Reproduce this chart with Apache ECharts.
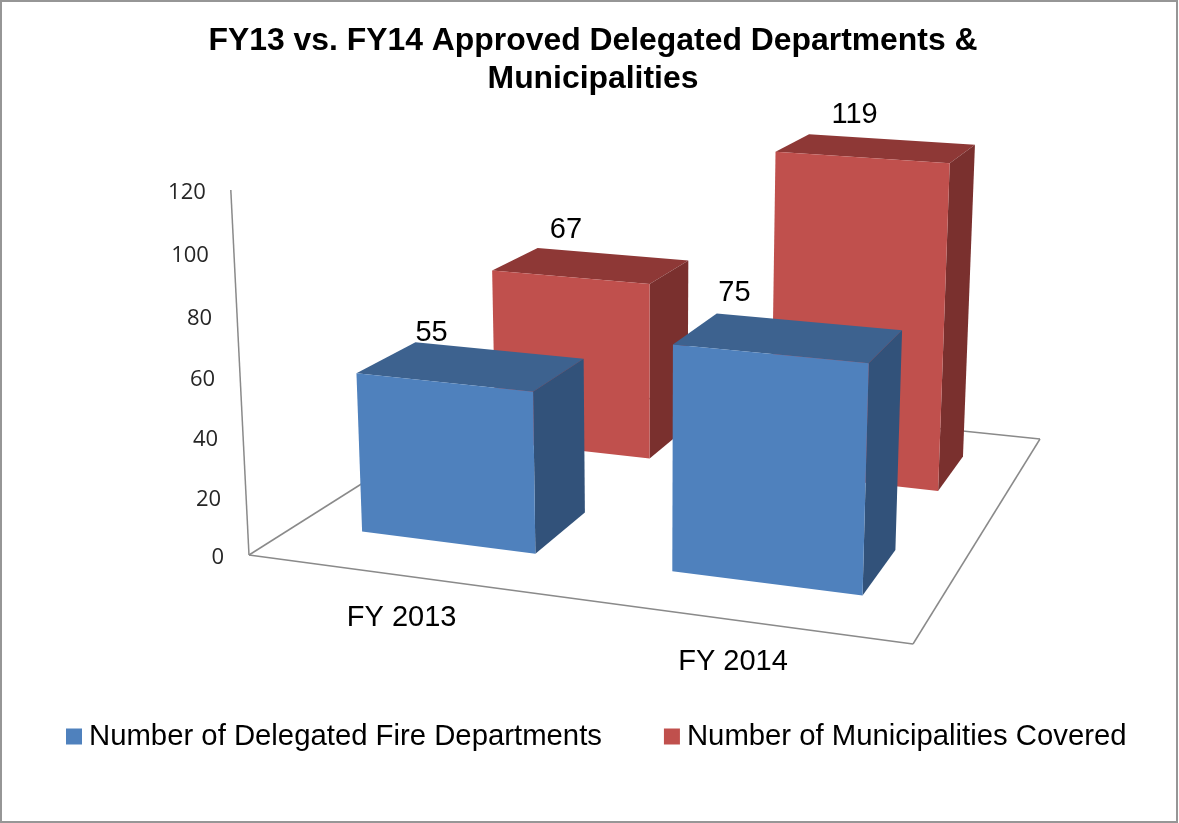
<!DOCTYPE html>
<html>
<head>
<meta charset="utf-8">
<title>FY13 vs. FY14</title>
<style>
html,body{margin:0;padding:0;background:#fff;}
#chart{width:1179px;height:823px;}
</style>
<script src="https://cdn.jsdelivr.net/npm/echarts@6/dist/echarts.min.js"></script>
</head>
<body>
<div id="chart"></div>
<script>
const categories = ["FY 2013", "FY 2014"];
const departments = [55, 75];
const municipalities = [67, 119];
const valueTicks = [0, 20, 40, 60, 80, 100, 120];
const seriesNames = ["Number of Delegated Fire Departments", "Number of Municipalities Covered"];

const FONT = '"Liberation Sans", Arial, sans-serif';
const Y_MAX = 120;
const BAR_FRAC = 0.57;   // bar width inside its category band
const DEPTH_FRAC = 0.40; // bar depth inside its series band

/* floor corners on screen + vanishing point of the verticals */
const floor = [[249, 555], [913, 644], [1040, 439], [518, 385]];
const vanish = [650, 8600];
const axisTopY = 190;

function makeCamera(q){
	const [[x0,y0],[x1,y1],[x2,y2],[x3,y3]] = q;
	const dx1=x1-x2, dx2=x3-x2, sx=x0-x1+x2-x3;
	const dy1=y1-y2, dy2=y3-y2, sy=y0-y1+y2-y3;
	const den = dx1*dy2-dx2*dy1;
	const g=(sx*dy2-dx2*sy)/den, h=(dx1*sy-sx*dy1)/den;
	const a=x1-x0+g*x1, b=x3-x0+h*x3;
	const d=y1-y0+g*y1, e=y3-y0+h*y3;
	const k=(axisTopY-y0)/(Y_MAX*(vanish[1]-axisTopY));
	// u along the categories, w into the depth, t in axis units
	return function(u,w,t){
		const n=g*u+h*w+1+k*t;
		return [(a*u+b*w+x0+vanish[0]*k*t)/n,(d*u+e*w+y0+vanish[1]*k*t)/n];
	};
}
const project = makeCamera(floor);

function face(points,color){
	return {type:"polygon",shape:{points},style:{fill:color}};
}

function barRenderer(depthIndex,colors,labelNudge){
	return function(params,api){
		const cat=api.value(0), val=api.value(1);
		const rect=params.coordSys;
		const base=api.coord([cat,0]), top=api.coord([cat,val]);
		const band=api.size([1,0])[0]/rect.width;
		const uc=(base[0]-rect.x)/rect.width;
		const t=(base[1]-top[1])/rect.height*Y_MAX;
		const u0=uc-band*BAR_FRAC/2, u1=uc+band*BAR_FRAC/2;
		const wc=(depthIndex+0.5)/2;
		const w0=wc-DEPTH_FRAC/4, w1=wc+DEPTH_FRAC/4;
		const labelAt=project((u0+u1)/2,w0,t);
		const nudge=labelNudge[cat];
		return {type:"group",children:[
			face([project(u0,w0,t),project(u1,w0,t),project(u1,w1,t),project(u0,w1,t)],colors.top),
			face([project(u1,w0,0),project(u1,w1,0),project(u1,w1,t),project(u1,w0,t)],colors.side),
			face([project(u0,w0,0),project(u1,w0,0),project(u1,w0,t),project(u0,w0,t)],colors.front),
			{type:"text",x:labelAt[0]+nudge[0],y:labelAt[1]+nudge[1],style:{
				text:String(val),font:"29px "+FONT,fill:"#000",align:"center",verticalAlign:"middle"}}
		]};
	};
}

function frameRenderer(params,api){
	if(params.dataIndex>0) return null;
	const line=(a,b)=>({type:"line",shape:{x1:a[0],y1:a[1],x2:b[0],y2:b[1]},
		style:{stroke:"#8a8a8a",lineWidth:1.5}});
	const o=project(0,0,0), r=project(1,0,0), rb=project(1,1,0), l=project(0,1,0);
	const children=[line(project(0,0,Y_MAX),o),line(o,r),line(r,rb),line(rb,l),line(l,o)];
	valueTicks.forEach(v=>{
		const p=project(0,0,v);
		children.push({type:"text",x:p[0]-25,y:p[1]+3,style:{text:String(v),
			font:'22px "Open Sans", sans-serif',fill:"#262626",align:"right",verticalAlign:"middle"}});
	});
	categories.forEach((c,i)=>{
		const p=project((i+0.5)/categories.length,0,0);
		children.push({type:"text",x:p[0]-1.5,y:p[1]+42,style:{text:c,font:"29px "+FONT,fill:"#000",
			align:"center",verticalAlign:"middle"}});
	});
	return {type:"group",children};
}

const blue={front:"#4F81BD",side:"#32527A",top:"#3D628F"};
const red={front:"#C0504D",side:"#7A302E",top:"#8E3836"};

const chart=echarts.init(document.getElementById("chart"));
chart.setOption({
	backgroundColor:"#fff",
	animation:false,
	title:{text:"FY13 vs. FY14 Approved Delegated Departments &\nMunicipalities",left:588,top:17,textAlign:"center",
		textStyle:{fontFamily:FONT,fontSize:31.9,fontWeight:"bold",color:"#000",lineHeight:38}},
	graphic:[{type:"rect",shape:{x:1,y:1,width:1176,height:821},silent:true,
		style:{fill:"none",stroke:"#969696",lineWidth:2}}],
	legend:{left:61,top:717,itemWidth:16,itemHeight:16,itemGap:62,icon:"rect",data:seriesNames,
		textStyle:{fontFamily:FONT,fontSize:29.3,color:"#000",padding:[0,0,0,2]}},
	grid:{left:249,top:190,width:664,height:365},
	xAxis:{type:"category",data:categories,show:false},
	yAxis:{type:"value",min:0,max:Y_MAX,interval:20,show:false},
	series:[
		{type:"custom",name:"frame",z:1,silent:true,data:[[0,0]],renderItem:frameRenderer,legendHoverLink:false},
		{type:"custom",name:seriesNames[1],z:2,itemStyle:{color:red.front},
			data:municipalities.map((v,i)=>[i,v]),encode:{x:0,y:1},
			renderItem:barRenderer(1,red,[[-4,-47],[-7,-42]])},
		{type:"custom",name:seriesNames[0],z:3,itemStyle:{color:blue.front},
			data:departments.map((v,i)=>[i,v]),encode:{x:0,y:1},
			renderItem:barRenderer(0,blue,[[-12,-49],[-35,-61]])}
	]
});
</script>
</body>
</html>
